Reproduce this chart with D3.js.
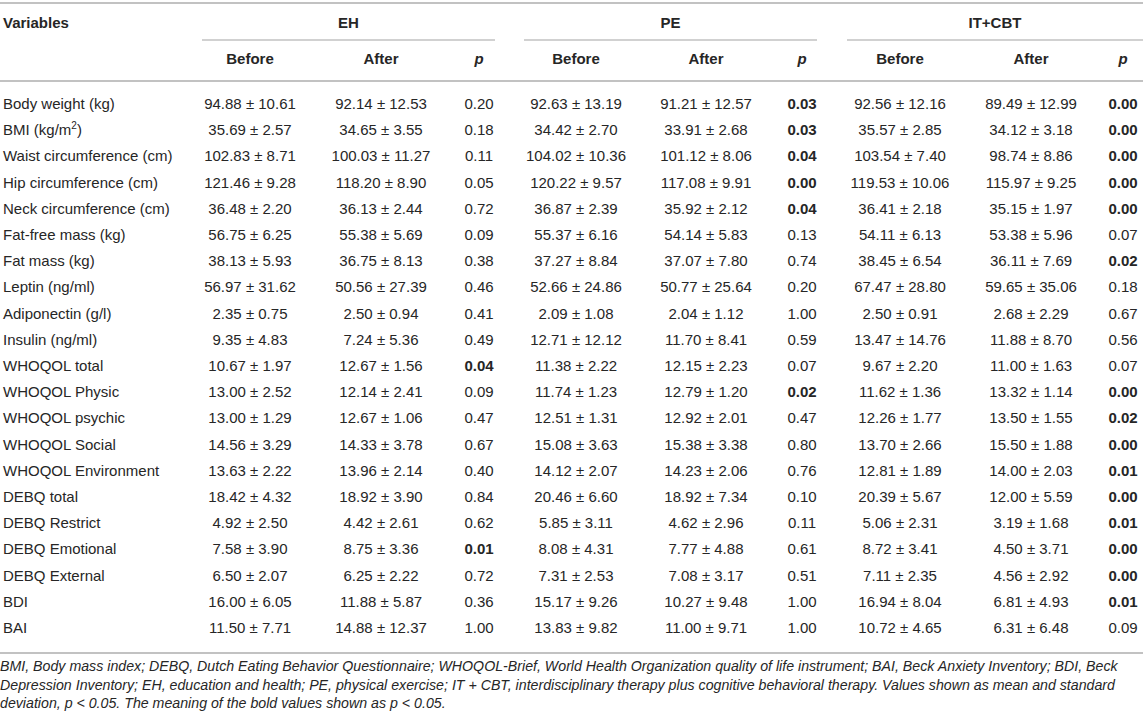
<!DOCTYPE html>
<html>
<head>
<meta charset="utf-8">
<script src="https://cdn.jsdelivr.net/npm/d3@7"></script>
<style>
  body { margin: 0; background: #fff; }
  svg { display: block; font-family: "Liberation Sans", Arial, sans-serif; }
</style>
</head>
<body>
<div id="container"></div>
<script>
// table data
const variables = [
  'Body weight (kg)', 'BMI (kg/m2)', 'Waist circumference (cm)', 'Hip circumference (cm)',
  'Neck circumference (cm)', 'Fat-free mass (kg)', 'Fat mass (kg)', 'Leptin (ng/ml)',
  'Adiponectin (g/l)', 'Insulin (ng/ml)', 'WHOQOL total', 'WHOQOL Physic', 'WHOQOL psychic',
  'WHOQOL Social', 'WHOQOL Environment', 'DEBQ total', 'DEBQ Restrict', 'DEBQ Emotional',
  'DEBQ External', 'BDI', 'BAI'
];
const groups = ['EH', 'PE', 'IT+CBT'];
const subHeaders = ['Before', 'After', 'p'];

// mean, sd
const ehBefore = [[94.88, 10.61], [35.69, 2.57], [102.83, 8.71], [121.46, 9.28], [36.48, 2.20], [56.75, 6.25], [38.13, 5.93], [56.97, 31.62], [2.35, 0.75], [9.35, 4.83], [10.67, 1.97], [13.00, 2.52], [13.00, 1.29], [14.56, 3.29], [13.63, 2.22], [18.42, 4.32], [4.92, 2.50], [7.58, 3.90], [6.50, 2.07], [16.00, 6.05], [11.50, 7.71]];
const ehAfter = [[92.14, 12.53], [34.65, 3.55], [100.03, 11.27], [118.20, 8.90], [36.13, 2.44], [55.38, 5.69], [36.75, 8.13], [50.56, 27.39], [2.50, 0.94], [7.24, 5.36], [12.67, 1.56], [12.14, 2.41], [12.67, 1.06], [14.33, 3.78], [13.96, 2.14], [18.92, 3.90], [4.42, 2.61], [8.75, 3.36], [6.25, 2.22], [11.88, 5.87], [14.88, 12.37]];
const ehP = [0.20, 0.18, 0.11, 0.05, 0.72, 0.09, 0.38, 0.46, 0.41, 0.49, 0.04, 0.09, 0.47, 0.67, 0.40, 0.84, 0.62, 0.01, 0.72, 0.36, 1.00];

const peBefore = [[92.63, 13.19], [34.42, 2.70], [104.02, 10.36], [120.22, 9.57], [36.87, 2.39], [55.37, 6.16], [37.27, 8.84], [52.66, 24.86], [2.09, 1.08], [12.71, 12.12], [11.38, 2.22], [11.74, 1.23], [12.51, 1.31], [15.08, 3.63], [14.12, 2.07], [20.46, 6.60], [5.85, 3.11], [8.08, 4.31], [7.31, 2.53], [15.17, 9.26], [13.83, 9.82]];
const peAfter = [[91.21, 12.57], [33.91, 2.68], [101.12, 8.06], [117.08, 9.91], [35.92, 2.12], [54.14, 5.83], [37.07, 7.80], [50.77, 25.64], [2.04, 1.12], [11.70, 8.41], [12.15, 2.23], [12.79, 1.20], [12.92, 2.01], [15.38, 3.38], [14.23, 2.06], [18.92, 7.34], [4.62, 2.96], [7.77, 4.88], [7.08, 3.17], [10.27, 9.48], [11.00, 9.71]];
const peP = [0.03, 0.03, 0.04, 0.00, 0.04, 0.13, 0.74, 0.20, 1.00, 0.59, 0.07, 0.02, 0.47, 0.80, 0.76, 0.10, 0.11, 0.61, 0.51, 1.00, 1.00];

const itBefore = [[92.56, 12.16], [35.57, 2.85], [103.54, 7.40], [119.53, 10.06], [36.41, 2.18], [54.11, 6.13], [38.45, 6.54], [67.47, 28.80], [2.50, 0.91], [13.47, 14.76], [9.67, 2.20], [11.62, 1.36], [12.26, 1.77], [13.70, 2.66], [12.81, 1.89], [20.39, 5.67], [5.06, 2.31], [8.72, 3.41], [7.11, 2.35], [16.94, 8.04], [10.72, 4.65]];
const itAfter = [[89.49, 12.99], [34.12, 3.18], [98.74, 8.86], [115.97, 9.25], [35.15, 1.97], [53.38, 5.96], [36.11, 7.69], [59.65, 35.06], [2.68, 2.29], [11.88, 8.70], [11.00, 1.63], [13.32, 1.14], [13.50, 1.55], [15.50, 1.88], [14.00, 2.03], [12.00, 5.59], [3.19, 1.68], [4.50, 3.71], [4.56, 2.92], [6.81, 4.93], [6.31, 6.48]];
const itP = [0.00, 0.00, 0.00, 0.00, 0.00, 0.07, 0.02, 0.18, 0.67, 0.56, 0.07, 0.00, 0.02, 0.00, 0.01, 0.00, 0.01, 0.00, 0.00, 0.01, 0.09];

const footnotes = [
  'BMI, Body mass index; DEBQ, Dutch Eating Behavior Questionnaire; WHOQOL-Brief, World Health Organization quality of life instrument; BAI, Beck Anxiety Inventory; BDI, Beck',
  'Depression Inventory; EH, education and health; PE, physical exercise; IT + CBT, interdisciplinary therapy plus cognitive behavioral therapy. Values shown as mean and standard',
  'deviation, p < 0.05. The meaning of the bold values shown as p < 0.05.'
];

// svg dimensions
const width = 1143;
const height = 720;
const textColor = '#262626';
const lineColor = '#c2c2c2';
const fmt = d3.format('.2f');

const svg = d3.select('#container')
              .append('svg')
              .attr('width', width)
              .attr('height', height);

// row scale: one band per variable
const yScale = d3.scaleBand()
                 .domain(variables)
                 .range([91, 641]);
const rowY = v => yScale(v) + yScale.bandwidth() / 2 + 5;

// group columns
const groupX = d3.scaleOrdinal().domain(groups).range([202, 524, 847]);
const groupEnd = d3.scaleOrdinal().domain(groups).range([495, 817, 1143]);
const subX = {
  'EH': [250, 381, 479],
  'PE': [576, 706, 802],
  'IT+CBT': [900, 1031, 1123]
};

const groupData = [
  { name: 'EH', before: ehBefore, after: ehAfter, p: ehP },
  { name: 'PE', before: peBefore, after: peAfter, p: peP },
  { name: 'IT+CBT', before: itBefore, after: itAfter, p: itP }
];

// horizontal rules
const rule = (x1, x2, y, w) => svg.append('line')
  .attr('x1', x1).attr('x2', x2).attr('y1', y).attr('y2', y)
  .attr('stroke', lineColor).attr('stroke-width', w);

rule(0, width, 3, 2);
rule(0, width, 81, 2);
rule(0, width, 653, 2);
groups.forEach(g => rule(groupX(g), groupEnd(g), 40, 1.5));

// header
svg.append('text')
   .attr('x', 3).attr('y', 28)
   .attr('font-size', 15).attr('font-weight', 'bold').attr('fill', textColor)
   .text('Variables');

svg.selectAll('.group-title')
   .data(groups)
   .enter()
   .append('text')
   .attr('class', 'group-title')
   .attr('x', g => (groupX(g) + groupEnd(g)) / 2)
   .attr('y', 28)
   .attr('text-anchor', 'middle')
   .attr('font-size', 15).attr('font-weight', 'bold').attr('fill', textColor)
   .text(g => g);

groups.forEach(g => {
  svg.selectAll(null)
     .data(subHeaders)
     .enter()
     .append('text')
     .attr('x', (d, i) => subX[g][i])
     .attr('y', 64)
     .attr('text-anchor', 'middle')
     .attr('font-size', 15).attr('font-weight', 'bold')
     .attr('font-style', d => d === 'p' ? 'italic' : 'normal')
     .attr('fill', textColor)
     .text(d => d);
});

// variable names
svg.selectAll('.var')
   .data(variables)
   .enter()
   .append('text')
   .attr('class', 'var')
   .attr('x', 3)
   .attr('y', rowY)
   .attr('font-size', 15).attr('fill', textColor)
   .each(function (v) {
     const t = d3.select(this);
     if (v === 'BMI (kg/m2)') {
       t.append('tspan').text('BMI (kg/m');
       t.append('tspan').attr('font-size', 10).attr('dy', -6).text('2');
       t.append('tspan').attr('dy', 6).text(')');
     } else {
       t.text(v);
     }
   });

// cell values
groupData.forEach(g => {
  const xs = subX[g.name];
  const cells = variables.map((v, i) => ({
    v,
    before: fmt(g.before[i][0]) + ' \u00b1 ' + fmt(g.before[i][1]),
    after: fmt(g.after[i][0]) + ' \u00b1 ' + fmt(g.after[i][1]),
    p: g.p[i]
  }));

  const row = svg.selectAll(null)
                 .data(cells)
                 .enter()
                 .append('g')
                 .attr('transform', d => `translate(0,${rowY(d.v)})`);

  row.append('text')
     .attr('x', xs[0]).attr('text-anchor', 'middle')
     .attr('font-size', 15).attr('fill', textColor)
     .text(d => d.before);

  row.append('text')
     .attr('x', xs[1]).attr('text-anchor', 'middle')
     .attr('font-size', 15).attr('fill', textColor)
     .text(d => d.after);

  row.append('text')
     .attr('x', xs[2]).attr('text-anchor', 'middle')
     .attr('font-size', 15).attr('fill', textColor)
     .attr('font-weight', d => d.p < 0.05 ? 'bold' : 'normal')
     .text(d => fmt(d.p));
});

// footnote
svg.selectAll('.note')
   .data(footnotes)
   .enter()
   .append('text')
   .attr('class', 'note')
   .attr('x', 0)
   .attr('y', (d, i) => 671 + i * 18.5)
   .attr('font-size', 14.2).attr('font-style', 'italic').attr('fill', textColor)
   .text(d => d);
</script>
</body>
</html>
